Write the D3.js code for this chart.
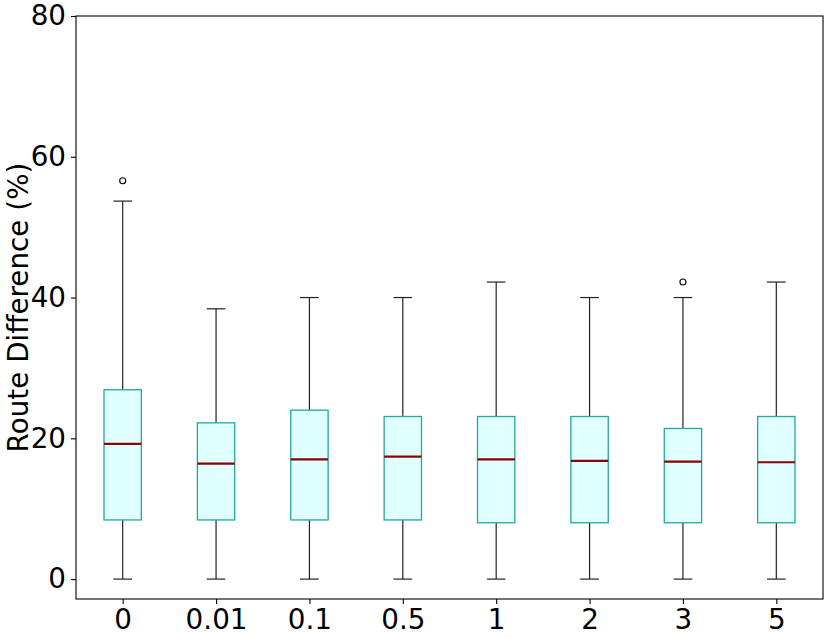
<!DOCTYPE html>
<html>
<head>
<meta charset="utf-8">
<script src="https://cdn.jsdelivr.net/npm/d3@7"></script>
<style>
  body { margin: 0; background: #fff; }
  text { font-family: "DejaVu Sans", sans-serif; }
</style>
</head>
<body>
<script>
// box stats
var categories = ["0", "0.01", "0.1", "0.5", "1", "2", "3", "5"];
var whiskerLow = [0, 0, 0, 0, 0, 0, 0, 0];
var q1 = [8.4, 8.4, 8.4, 8.4, 8.0, 8.0, 8.0, 8.0];
var median = [19.2, 16.4, 17.0, 17.4, 17.0, 16.8, 16.7, 16.6];
var q3 = [26.9, 22.2, 24.0, 23.1, 23.1, 23.1, 21.4, 23.1];
var whiskerHigh = [53.7, 38.4, 40.0, 40.0, 42.2, 40.0, 40.0, 42.2];
var outliers = [[56.6], [], [], [], [], [], [42.2], []];
var yTicks = [0, 20, 40, 60, 80];

var width = 830;
var height = 638;
var plotLeft = 76, plotRight = 823, plotTop = 16, plotBottom = 599;

var boxes = categories.map(function(c, i) {
  return {cat: c, lo: whiskerLow[i], q1: q1[i], med: median[i], q3: q3[i], hi: whiskerHigh[i], out: outliers[i]};
});

var svg = d3.select("body")
            .append("svg")
            .attr("width", width)
            .attr("height", height)

var xScale = d3.scaleLinear()
               .domain([0.5, categories.length + 0.5])
               .range([plotLeft, plotRight]);

var yScale = d3.scaleLinear()
               .domain([-2.83, 80])
               .range([plotBottom, plotTop]);

var unit = xScale(1) - xScale(0);
var boxW = 0.4 * unit;
var capW = 0.2 * unit;

var g = svg.selectAll("g.box")
   .data(boxes)
   .enter()
   .append("g")
   .attr("class", "box")
   .attr("transform", function(d, i) { return "translate(" + xScale(i + 1) + ",0)"; });

//whiskers
g.append("line")
  .attr("x1", 0).attr("x2", 0)
  .attr("y1", function(d) { return yScale(d.lo); })
  .attr("y2", function(d) { return yScale(d.q1); })
  .attr("stroke", "#222").attr("stroke-width", 1.2);
g.append("line")
  .attr("x1", 0).attr("x2", 0)
  .attr("y1", function(d) { return yScale(d.q3); })
  .attr("y2", function(d) { return yScale(d.hi); })
  .attr("stroke", "#222").attr("stroke-width", 1.2);
//caps
g.append("line")
  .attr("x1", -capW / 2).attr("x2", capW / 2)
  .attr("y1", function(d) { return yScale(d.lo); })
  .attr("y2", function(d) { return yScale(d.lo); })
  .attr("stroke", "#222").attr("stroke-width", 1.2);
g.append("line")
  .attr("x1", -capW / 2).attr("x2", capW / 2)
  .attr("y1", function(d) { return yScale(d.hi); })
  .attr("y2", function(d) { return yScale(d.hi); })
  .attr("stroke", "#222").attr("stroke-width", 1.2);

//boxes
g.append("rect")
  .attr("x", -boxW / 2)
  .attr("width", boxW)
  .attr("y", function(d) { return yScale(d.q3); })
  .attr("height", function(d) { return yScale(d.q1) - yScale(d.q3); })
  .attr("fill", "#e0ffff")
  .attr("stroke", "#20a8a0")
  .attr("stroke-width", 1.3);

//medians
g.append("line")
  .attr("x1", -boxW / 2).attr("x2", boxW / 2)
  .attr("y1", function(d) { return yScale(d.med); })
  .attr("y2", function(d) { return yScale(d.med); })
  .attr("stroke", "#8b0000").attr("stroke-width", 2.2);

//outliers
g.selectAll("circle")
  .data(function(d) { return d.out; })
  .enter()
  .append("circle")
  .attr("cx", 0)
  .attr("cy", function(d) { return yScale(d); })
  .attr("r", 3)
  .attr("fill", "none")
  .attr("stroke", "#000")
  .attr("stroke-width", 1.1);

//frame
svg.append("rect")
  .attr("x", plotLeft).attr("y", plotTop)
  .attr("width", plotRight - plotLeft).attr("height", plotBottom - plotTop)
  .attr("fill", "none").attr("stroke", "#000").attr("stroke-width", 1.1);

var yAxis = d3.axisLeft()
            .scale(yScale)
            .tickValues(yTicks)
            .tickSize(5)
            .tickPadding(5);

var xAxis = d3.axisBottom()
            .scale(xScale)
            .tickValues(d3.range(1, categories.length + 1))
            .tickFormat(function(d) { return categories[d - 1]; })
            .tickSize(5)
            .tickPadding(5);

var ya = svg.append("g")
  .attr("transform", "translate(" + plotLeft + ",0)")
  .call(yAxis);
var xa = svg.append("g")
  .attr("transform", "translate(0," + plotBottom + ")")
  .call(xAxis);

[ya, xa].forEach(function(a) {
  a.attr("font-size", 27.8).attr("font-family", "DejaVu Sans, sans-serif");
  a.select(".domain").remove();
  a.selectAll("line").attr("stroke", "#000").attr("stroke-width", 1.1);
  a.selectAll("text").attr("fill", "#000");
});

svg.append("text")
  .attr("transform", "translate(28," + ((plotTop + plotBottom) / 2) + ") rotate(-90)")
  .attr("text-anchor", "middle")
  .attr("font-size", 27.8)
  .text("Route Difference (%)");
</script>
</body>
</html>
